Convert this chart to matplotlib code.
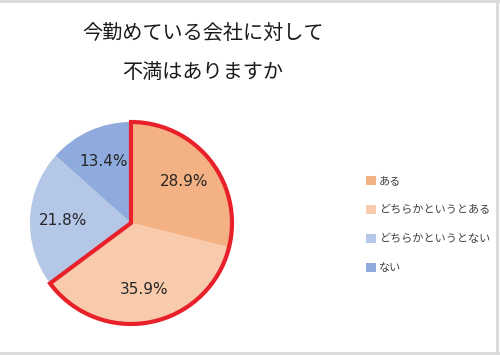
import matplotlib
matplotlib.use("Agg")
import matplotlib.pyplot as plt
from matplotlib.patches import Wedge
from matplotlib.lines import Line2D

plt.rcParams['font.family'] = ['Noto Sans CJK JP', 'DejaVu Sans']

title_lines = ["今勤めている会社に対して", "不満はありますか"]
categories = ["ある", "どちらかというとある", "どちらかというとない", "ない"]
values = [28.9, 35.9, 21.8, 13.4]
colors = ["#F4B183", "#F8CBAD", "#B4C7E7", "#8FAADC"]
highlight_count = 2  # first two slices outlined in red

W, H = 500, 355
fig = plt.figure(figsize=(W / 100, H / 100), dpi=100)
fig.patch.set_facecolor("white")

cx, cy, r = 131, 223, 101
ax = fig.add_axes([(cx - r) / W, (H - cy - r) / H, 2 * r / W, 2 * r / H])

wedges, texts, autotexts = ax.pie(
    values, colors=colors, startangle=90, counterclock=False,
    autopct=lambda p: f"{p:.1f}%", pctdistance=0.67, radius=1.0,
    wedgeprops=dict(linewidth=0),
    textprops=dict(fontsize=11, color="#262626", family=['DejaVu Sans']),
)
ax.set_xlim(-1.0, 1.0)
ax.set_ylim(-1.0, 1.0)
ax.set_aspect("equal")
ax.axis("off")

total = sum(values)
frac = sum(values[:highlight_count]) / total
outline = Wedge((0, 0), 1.0, 90 - frac * 360, 90, fill=False,
                edgecolor="#E8202A", linewidth=3, joinstyle="miter", clip_on=False)
ax.add_patch(outline)

# Title
fig.text(203 / W, 1 - 33 / H, title_lines[0], ha="center", va="center",
         fontsize=14.5, color="#1a1a1a")
fig.text(203 / W, 1 - 72 / H, title_lines[1], ha="center", va="center",
         fontsize=14.5, color="#1a1a1a")

# Legend
leg = fig.legend(wedges, categories, loc="upper left",
                 bbox_to_anchor=(360 / W, 1 - 170 / H), frameon=False,
                 fontsize=8, handlelength=0.9, handleheight=0.9,
                 handletextpad=0.3, labelspacing=1.68, borderpad=0,
                 labelcolor="#404040")

# Light gray frame (top, right, bottom)
fig.add_artist(Line2D([0, 1], [1 - 1 / H, 1 - 1 / H], transform=fig.transFigure,
                      color="#d9d9d9", lw=2))
fig.add_artist(Line2D([1 - 3 / W, 1 - 3 / W], [0, 1], transform=fig.transFigure,
                      color="#d9d9d9", lw=2))
fig.add_artist(Line2D([0, 1], [2.5 / H, 2.5 / H], transform=fig.transFigure,
                      color="#d9d9d9", lw=2))

fig.savefig("out.png", dpi=100)
